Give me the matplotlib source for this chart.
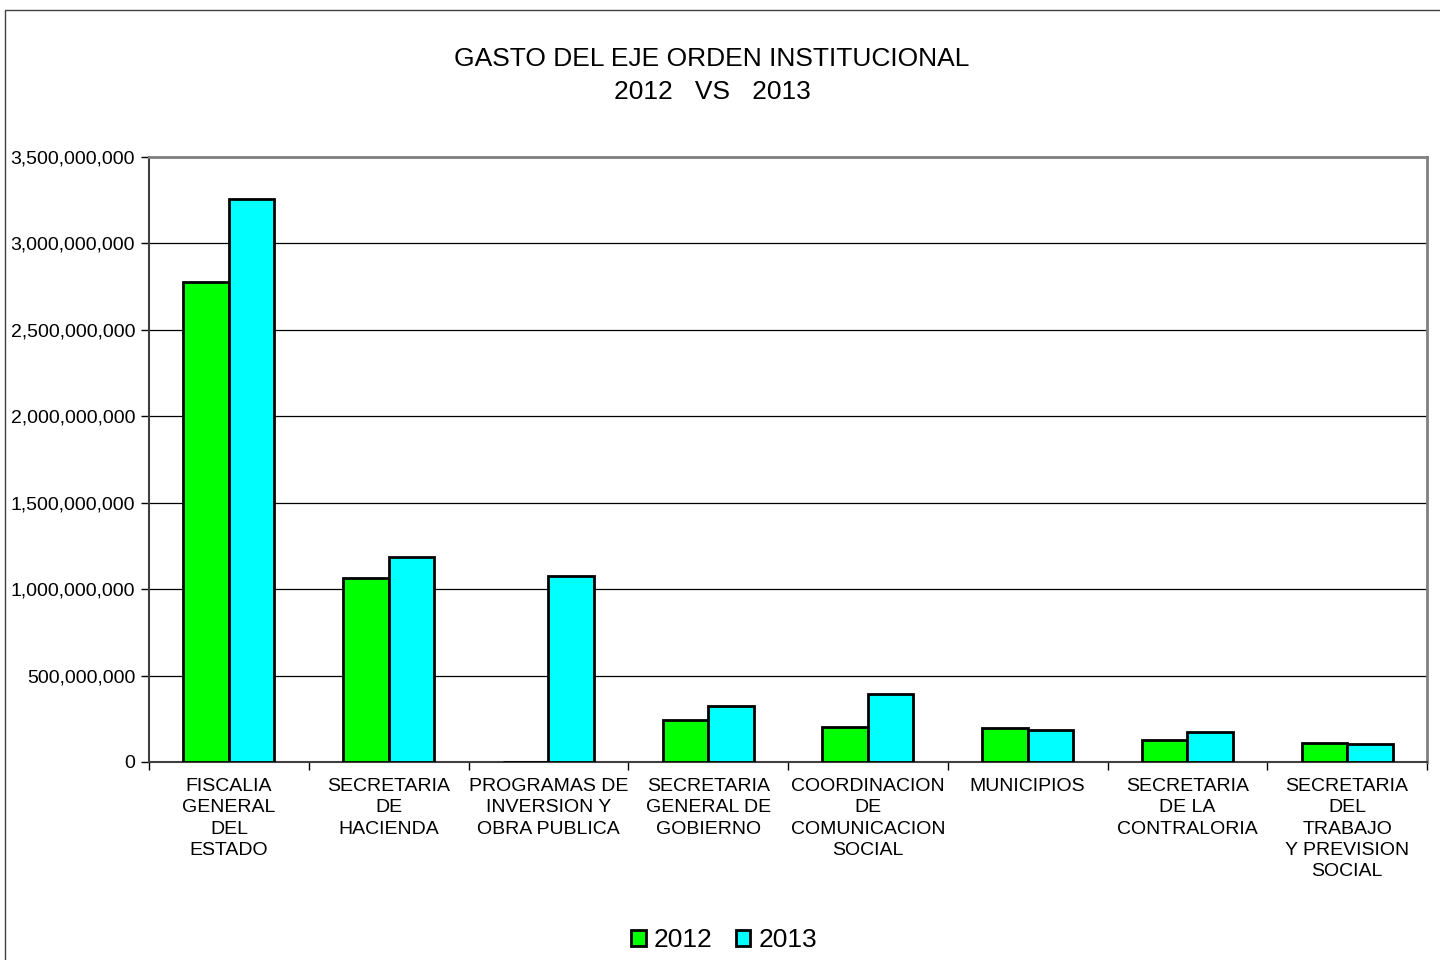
import matplotlib
matplotlib.use('Agg')
import matplotlib.pyplot as plt
import numpy as np
from matplotlib.patches import Rectangle

categories = ["FISCALIA\nGENERAL\nDEL\nESTADO", "SECRETARIA\nDE\nHACIENDA",
              "PROGRAMAS DE\nINVERSION Y\nOBRA PUBLICA", "SECRETARIA\nGENERAL DE\nGOBIERNO",
              "COORDINACION\nDE\nCOMUNICACION\nSOCIAL", "MUNICIPIOS",
              "SECRETARIA\nDE LA\nCONTRALORIA", "SECRETARIA\nDEL\nTRABAJO\nY PREVISION\nSOCIAL"]
gasto_2012 = [2777e6, 1064e6, 0, 243e6, 202e6, 197e6, 127e6, 110e6]
gasto_2013 = [3257e6, 1186e6, 1076e6, 324e6, 393e6, 185e6, 174e6, 104e6]
yticks = [0, 500e6, 1000e6, 1500e6, 2000e6, 2500e6, 3000e6, 3500e6]

plt.rcParams['font.family'] = ['Liberation Sans', 'DejaVu Sans']

fig = plt.figure(figsize=(14.4, 9.6), dpi=100)
ax = fig.add_axes([149/1440, 1-762/960, (1427-149)/1440, (762-157)/960])

# outer chart frame
fig.patches.append(Rectangle((5/1440, -0.01), 1.1, 1 - 10/960 + 0.01, transform=fig.transFigure,
                             fill=False, edgecolor='#404040', linewidth=1))

x = np.arange(len(categories))
w = 0.285
ax.bar(x - w/2, gasto_2012, w, color='#00ff00', edgecolor='black', linewidth=2, label='2012', zorder=3)
ax.bar(x + w/2, gasto_2013, w, color='#00ffff', edgecolor='black', linewidth=2, label='2013', zorder=3)

ax.set_xlim(-0.5, len(categories) - 0.5)
ax.set_ylim(0, 3500e6)
ax.set_yticks(yticks)
ax.set_yticklabels([f"{int(v):,}" for v in yticks], fontsize=14)
ax.yaxis.grid(True, color='black', linewidth=0.9, zorder=0)
ax.tick_params(axis='y', length=6, width=1, pad=4)

ax.set_xticks(x)
ax.set_xticklabels(categories, fontsize=14, linespacing=1.33, va='top')
ax.tick_params(axis='x', length=0, pad=11.5)
ax.set_xticks(np.arange(len(categories) + 1) - 0.5, minor=True)
ax.tick_params(axis='x', which='minor', length=6, width=1)

for s in ['top', 'right']:
    ax.spines[s].set_color('#808080')
    ax.spines[s].set_linewidth(2)
ax.spines['left'].set_color('#404040')
ax.spines['left'].set_linewidth(1.5)
ax.spines['bottom'].set_color('#404040')
ax.spines['bottom'].set_linewidth(1.5)

fig.text(712/1440, 1-59/960, "GASTO DEL EJE ORDEN INSTITUCIONAL", ha='center', va='center', fontsize=19)
fig.text(712/1440, 1-92/960, "2012   VS   2013", ha='center', va='center', fontsize=19)

leg = fig.legend(loc='center', bbox_to_anchor=(724/1440, 1-940/960), ncol=2, frameon=False,
                 fontsize=19, handlelength=0.55, handleheight=0.55, handletextpad=0.3,
                 columnspacing=0.9)

fig.savefig('out.png', dpi=100)
